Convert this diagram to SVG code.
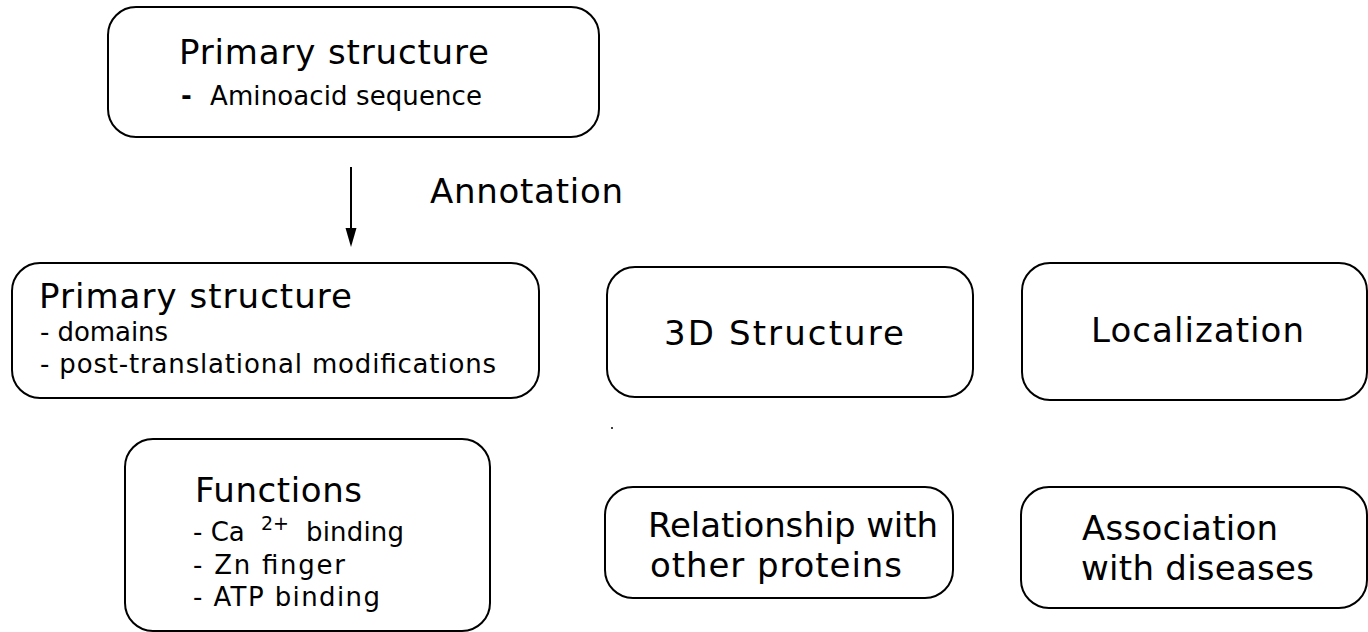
<svg xmlns="http://www.w3.org/2000/svg" width="1368" height="632" viewBox="0 0 1368 632">
<style>
.box{fill:#fff;stroke:#000;stroke-width:2}
text{font-family:"DejaVu Sans","Liberation Sans",sans-serif;fill:#000}
.big{font-size:34px}
.small{font-size:26px}
</style>
<rect width="1368" height="632" fill="#fff"/>
<g id="connectors">
<line x1="351" y1="167" x2="351" y2="230" stroke="#000" stroke-width="2"/>
<path d="M345.5,228 L356.5,228 L351,247 Z" fill="#000"/>
<text class="big" x="430" y="203" textLength="193" lengthAdjust="spacing">Annotation</text>
</g>
<g id="primary-top">
<rect class="box" x="108" y="7" width="491" height="130" rx="28" ry="28"/>
<text class="big" x="179" y="64" textLength="310" lengthAdjust="spacing">Primary structure</text>
<text class="small" x="181" y="105" font-weight="bold">-</text>
<text class="small" x="210" y="105" textLength="272" lengthAdjust="spacing">Aminoacid sequence</text>
</g>
<g id="primary-annot">
<rect class="box" x="12" y="263" width="527" height="135" rx="28" ry="28"/>
<text class="big" x="39" y="308" textLength="313" lengthAdjust="spacing">Primary structure</text>
<text class="small" x="40" y="341" textLength="128" lengthAdjust="spacing">- domains</text>
<text class="small" x="40" y="373" textLength="456" lengthAdjust="spacing">- post-translational modifications</text>
</g>
<g id="structure3d">
<rect class="box" x="607" y="267" width="366" height="130" rx="28" ry="28"/>
<text class="big" x="664" y="345" textLength="240" lengthAdjust="spacing">3D Structure</text>
</g>
<g id="localization">
<rect class="box" x="1022" y="263" width="345" height="137" rx="28" ry="28"/>
<text class="big" x="1091" y="342" textLength="213" lengthAdjust="spacing">Localization</text>
</g>
<g id="functions">
<rect class="box" x="125" y="439" width="365" height="192" rx="28" ry="28"/>
<text class="big" x="195" y="502" textLength="167" lengthAdjust="spacing">Functions</text>
<text class="small" x="193" y="541">- Ca</text>
<text x="261" y="530" font-size="19">2+</text>
<text class="small" x="306" y="541" textLength="98" lengthAdjust="spacing">binding</text>
<text class="small" x="193" y="574" textLength="152" lengthAdjust="spacing">- Zn finger</text>
<text class="small" x="193" y="606" textLength="187" lengthAdjust="spacing">- ATP binding</text>
</g>
<g id="relationship">
<rect class="box" x="605" y="487" width="348" height="111" rx="28" ry="28"/>
<text class="big" x="648" y="537" textLength="290" lengthAdjust="spacing">Relationship with</text>
<text class="big" x="650" y="577" textLength="252" lengthAdjust="spacing">other proteins</text>
</g>
<g id="association">
<rect class="box" x="1021" y="487" width="346" height="121" rx="28" ry="28"/>
<text class="big" x="1082" y="540" textLength="196" lengthAdjust="spacing">Association</text>
<text class="big" x="1081" y="580" textLength="233" lengthAdjust="spacing">with diseases</text>
</g>
<circle cx="612" cy="428" r="1" fill="#000"/>
</svg>
